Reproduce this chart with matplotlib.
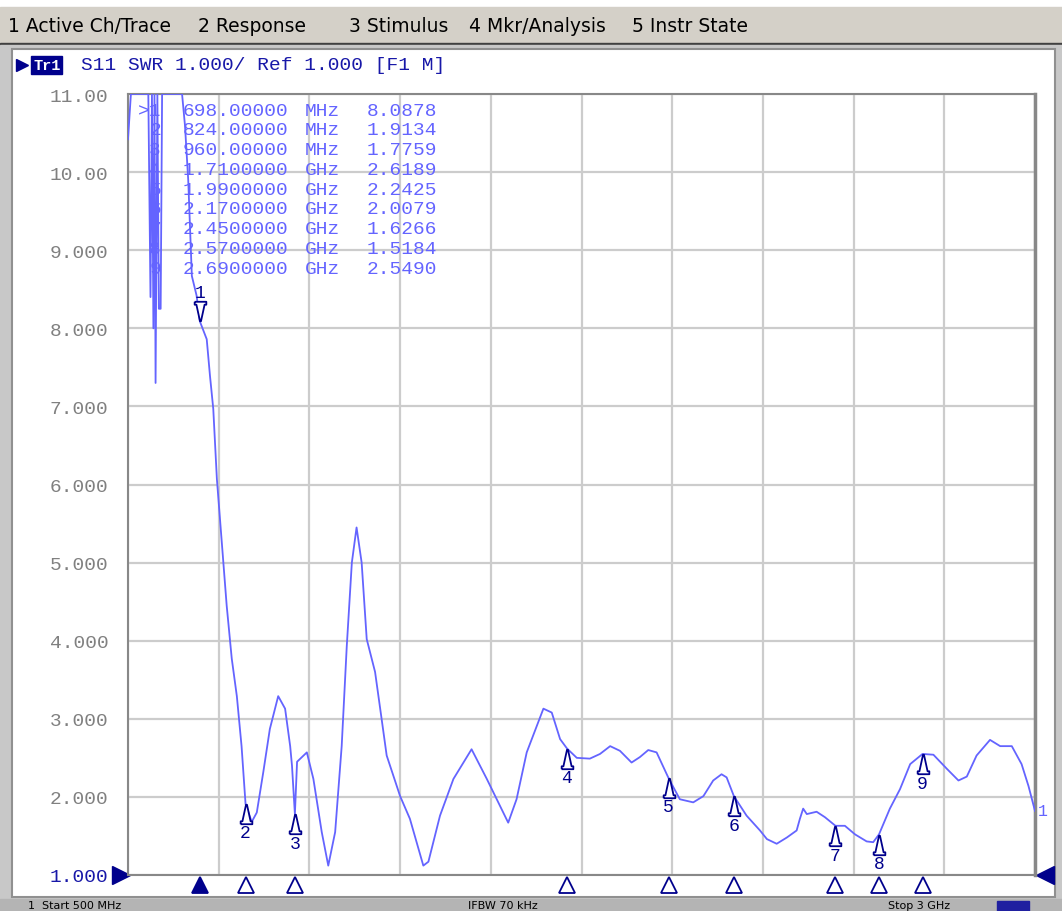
import numpy as np
import matplotlib
matplotlib.use("Agg")
import matplotlib.pyplot as plt
from matplotlib.patches import Rectangle
from matplotlib.lines import Line2D
from matplotlib.transforms import offset_copy

# S11 SWR trace, 500 MHz .. 3 GHz (values above 11 are off-scale)
freq_mhz = [500, 508, 556, 562, 566, 570, 573, 576, 581, 585, 590, 594, 649, 657,
            666, 676, 689, 698, 717, 726, 735, 745, 772, 786, 800, 813, 824, 841,
            855, 873, 891, 914, 933, 947, 952, 960, 966, 993, 1011, 1034, 1052,
            1071, 1089, 1103, 1117, 1130, 1144, 1158, 1181, 1199, 1213, 1250,
            1277, 1314, 1328, 1360, 1397, 1447, 1489, 1548, 1571, 1599, 1645,
            1668, 1691, 1710, 1737, 1773, 1801, 1829, 1856, 1888, 1911, 1934,
            1957, 1990, 2021, 2058, 2086, 2113, 2136, 2150, 2170, 2205, 2242,
            2261, 2288, 2316, 2343, 2352, 2361, 2371, 2398, 2421, 2450, 2476,
            2504, 2536, 2554, 2570, 2600, 2628, 2656, 2690, 2720, 2757, 2789,
            2812, 2839, 2876, 2904, 2936, 2963, 2982, 3000]
swr = [10.42, 12.0, 12.0, 8.4, 12.0, 8.0, 11.0, 7.3, 12.0, 8.25, 8.25, 12.0, 12.0, 10.6,
       9.9, 8.67, 8.42, 8.09, 7.86, 7.39, 6.97, 6.07, 4.45, 3.77, 3.29, 2.65, 1.91, 1.68,
       1.80, 2.32, 2.87, 3.29, 3.13, 2.65, 2.40, 1.78, 2.45, 2.57, 2.23, 1.55, 1.12,
       1.55, 2.65, 3.93, 5.00, 5.45, 5.00, 4.02, 3.60, 3.00, 2.53, 2.01,
       1.72, 1.12, 1.17, 1.76, 2.23, 2.61, 2.23, 1.67, 1.97, 2.57, 3.13,
       3.08, 2.74, 2.62, 2.50, 2.49, 2.55, 2.65, 2.59, 2.44, 2.51, 2.60,
       2.57, 2.24, 1.97, 1.93, 2.01, 2.21, 2.29, 2.25, 2.01, 1.76, 1.57,
       1.46, 1.40, 1.48, 1.57, 1.72, 1.85, 1.78, 1.81, 1.74, 1.63, 1.63,
       1.52, 1.43, 1.42, 1.52, 1.85, 2.10, 2.42, 2.55, 2.54, 2.36, 2.21,
       2.26, 2.53, 2.73, 2.65, 2.65, 2.42, 2.14, 1.82]

# marker table
mkr_num = [1, 2, 3, 4, 5, 6, 7, 8, 9]
mkr_freq = [698, 824, 960, 1710, 1990, 2170, 2450, 2570, 2690]
mkr_freq_txt = ["698.00000", "824.00000", "960.00000", "1.7100000", "1.9900000",
                "2.1700000", "2.4500000", "2.5700000", "2.6900000"]
mkr_unit = ["MHz", "MHz", "MHz", "GHz", "GHz", "GHz", "GHz", "GHz", "GHz"]
mkr_val = [8.0878, 1.9134, 1.7759, 2.6189, 2.2425, 2.0079, 1.6266, 1.5184, 2.5490]

menu_items = ["1 Active Ch/Trace", "2 Response", "3 Stimulus", "4 Mkr/Analysis", "5 Instr State"]
menu_x = [8, 198, 349, 469, 632]
status_items = ["1  Start 500 MHz", "IFBW 70 kHz", "Stop 3 GHz"]
status_x = [28, 468, 888]
y_ticks = [1, 2, 3, 4, 5, 6, 7, 8, 9, 10, 11]
y_labels = ["1.000", "2.000", "3.000", "4.000", "5.000", "6.000", "7.000",
            "8.000", "9.000", "10.00", "11.00"]

W, H = 1062, 912
NAVY = "#00008c"
TRACE = "#6464ff"
MONO = "Liberation Mono"

def px(x, y):
    return x / W, 1 - y / H

fig = plt.figure(figsize=(W / 100, H / 100), dpi=100)
fig.patch.set_facecolor("white")

# window chrome
fig.add_artist(Rectangle(px(0, 44), 1, 36 / H, transform=fig.transFigure, color="#d4d0c8", zorder=0))
fig.add_artist(Rectangle(px(0, 46), 1, 2 / H, transform=fig.transFigure, color="#404040", zorder=0))
fig.add_artist(Rectangle(px(0, 900), 1, 854 / H, transform=fig.transFigure, color="#c8c8c8", zorder=0))
fig.add_artist(Rectangle(px(12, 898), 1043 / W, 848 / H, transform=fig.transFigure,
                         facecolor="white", edgecolor="#909090", lw=1.5, zorder=0))
fig.add_artist(Rectangle(px(0, 912), 1, 12 / H, transform=fig.transFigure, color="#b4b4b4", zorder=0))
for t, x in zip(menu_items, menu_x):
    fig.text(*px(x, 26), t, fontsize=13.5, family="DejaVu Sans", va="center", ha="left", color="black")

# status bar
for t, x in zip(status_items, status_x):
    fig.text(*px(x, 906), t, fontsize=8, va="center", ha="left", color="black")
fig.add_artist(Rectangle(px(997, 912), 32 / W, 10 / H, transform=fig.transFigure, color="#2020a0", zorder=1))

# trace title
fig.add_artist(Line2D([px(22, 66)[0]], [px(22, 66)[1]], marker=">", markersize=8, color=NAVY,
                      transform=fig.transFigure))
fig.text(*px(33, 66), "Tr1", fontsize=11, family=MONO, weight="bold", color="white", va="center",
         bbox=dict(boxstyle="square,pad=0.12", fc=NAVY, ec=NAVY))
fig.text(*px(81, 66), "S11 SWR 1.000/ Ref 1.000 [F1 M]", fontsize=14, family=MONO,
         color="#1818a8", va="center")

ax = fig.add_axes([128 / W, (H - 876) / H, 907 / W, 781 / H])
ax.plot(freq_mhz, np.clip(swr, 1, 11), color=TRACE, lw=1.3, zorder=3)
ax.set_xlim(500, 3000)
ax.set_ylim(1, 11)
ax.set_xticks(np.linspace(500, 3000, 11))
ax.set_xticklabels([])
ax.set_yticks(y_ticks)
ax.set_yticklabels(y_labels, family=MONO, fontsize=14)
for lab in ax.get_yticklabels():
    lab.set_color("#808080")
ax.get_yticklabels()[0].set_color("#1818a8")
ax.tick_params(length=0, pad=14)
ax.grid(True, color="#cccccc", lw=1.6)
for s in ax.spines.values():
    s.set_color("#888888")
    s.set_linewidth(1.5)
ax.spines["right"].set_linewidth(2.5)

# markers on the trace: pointed flag on a base bar
tri_up = [(-0.6, -1), (0.6, -1), (0.6, -0.7), (0.42, -0.7), (0.05, 1), (-0.05, 1),
          (-0.42, -0.7), (-0.6, -0.7), (-0.6, -1)]
tri_dn = [(x, -y) for x, y in tri_up]
for n, f, v in zip(mkr_num, mkr_freq, mkr_val):
    sgn = 1 if n == 1 else -1
    ax.plot([f], [v], marker=tri_dn if n == 1 else tri_up, markersize=14, mfc="white",
            mec=NAVY, mew=1.3, zorder=5, clip_on=False,
            transform=offset_copy(ax.transData, fig=fig, y=sgn * 10, units="dots"))
    ax.text(f, v, str(n), transform=offset_copy(ax.transData, fig=fig, y=sgn * 29, units="dots"),
            ha="center", va="center", color=NAVY, fontsize=13, family=MONO)

# marker triangles below the axis
for n, f in zip(mkr_num, mkr_freq):
    tr = offset_copy(ax.get_xaxis_transform(), fig=fig, y=-10, units="dots")
    ax.plot([f], [0], marker="^", markersize=11, mfc=NAVY if n == 1 else "white", mec=NAVY,
            mew=1.3, transform=tr, clip_on=False, zorder=5)

# reference level arrows
ax.plot([0], [1], marker=">", markersize=13, color=NAVY, clip_on=False,
        transform=offset_copy(ax.get_yaxis_transform(), fig=fig, x=-7, units="dots"))
ax.plot([1], [1], marker="<", markersize=13, color=NAVY, clip_on=False,
        transform=offset_copy(ax.get_yaxis_transform(), fig=fig, x=10, units="dots"))
ax.text(freq_mhz[-1], swr[-1], "1", color=TRACE, fontsize=12, family=MONO, va="center",
        ha="left", transform=offset_copy(ax.transData, fig=fig, x=3, units="dots"), clip_on=False)

# marker readout table
for i, (n, ft, u, v) in enumerate(zip(mkr_num, mkr_freq_txt, mkr_unit, mkr_val)):
    y = 111 + i * 19.8
    lab = (">" if n == 1 else "") + str(n)
    fig.text(*px(161, y), lab, ha="right", va="center", family=MONO, fontsize=14, color=TRACE)
    fig.text(*px(183, y), ft, ha="left", va="center", family=MONO, fontsize=14, color=TRACE)
    fig.text(*px(305, y), u, ha="left", va="center", family=MONO, fontsize=14, color=TRACE)
    fig.text(*px(437, y), f"{v:.4f}", ha="right", va="center", family=MONO, fontsize=14, color=TRACE)

fig.savefig("out.png", dpi=100)
